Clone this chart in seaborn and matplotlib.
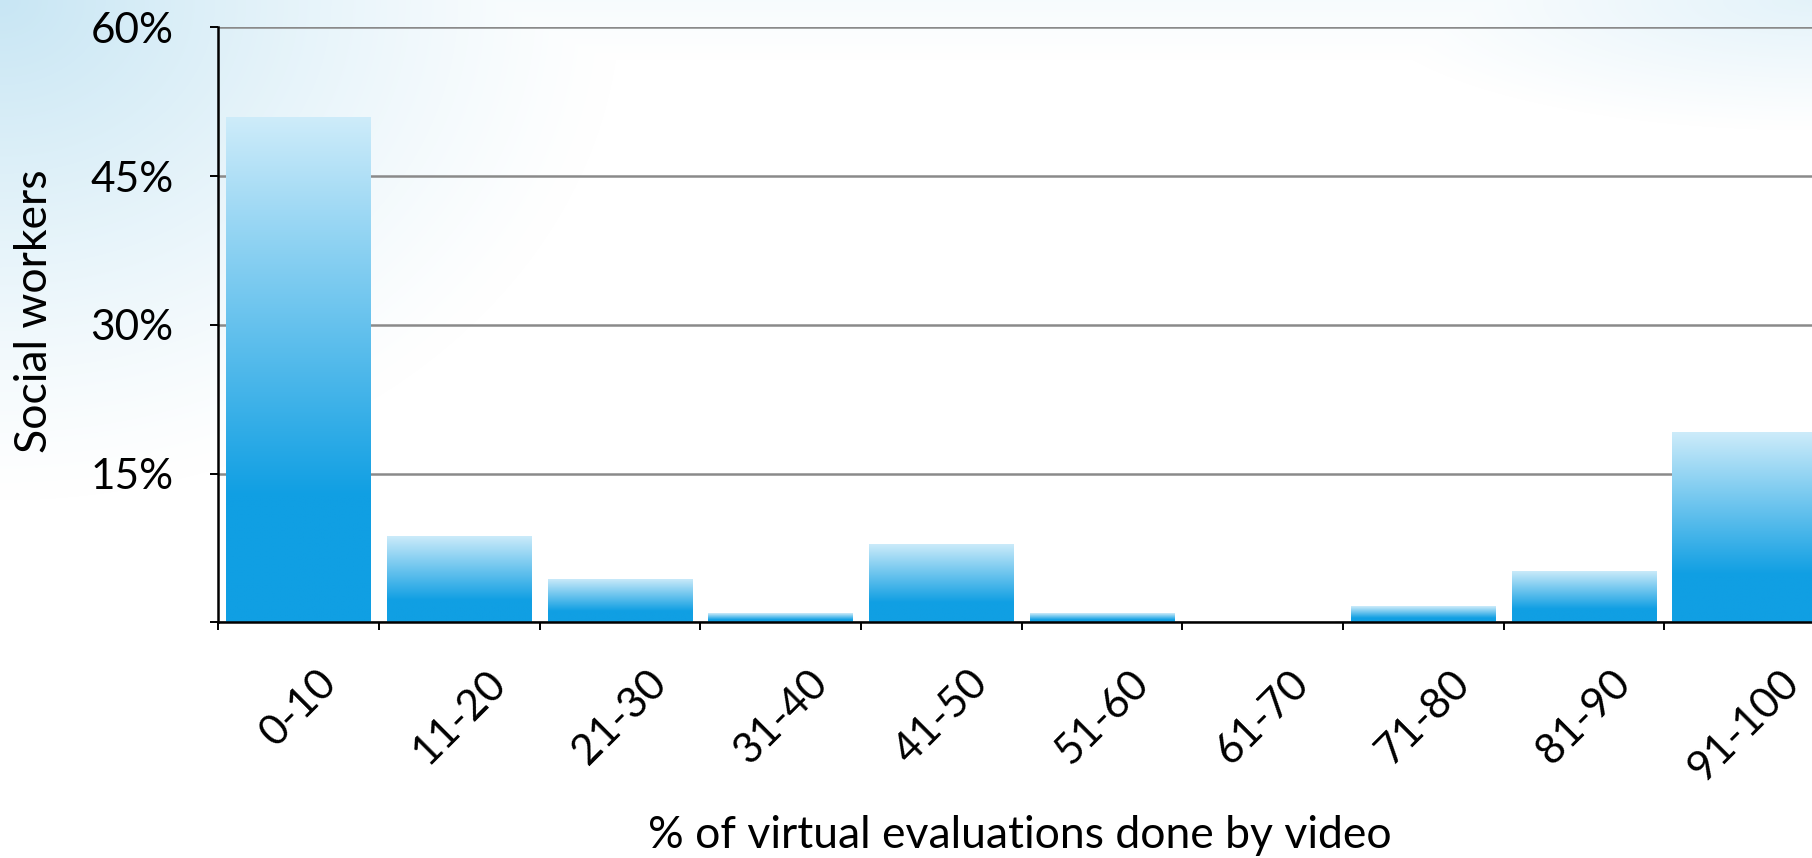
import numpy as np
import matplotlib
matplotlib.use("Agg")
import matplotlib.pyplot as plt
import seaborn as sns

# ---------------- data ----------------
categories = ["0-10", "11-20", "21-30", "31-40", "41-50",
              "51-60", "61-70", "71-80", "81-90", "91-100"]
shares = [51.0, 8.7, 4.4, 0.9, 7.9, 0.9, 0.0, 1.6, 5.2, 19.2]
y_ticks = [0, 15, 30, 45, 60]
y_tick_labels = ["", "15%", "30%", "45%", "60%"]
x_label = "% of virtual evaluations done by video"
y_label = "Social workers"

# ---------------- style ----------------
sns.set_style("white")
plt.rcParams['font.family'] = ['Lato', 'DejaVu Sans']

W, H = 1812, 858
fig = plt.figure(figsize=(W / 100, H / 100), dpi=100)

# background gradient (light blue in the top corners fading to white)
bg = fig.add_axes([0, 0, 1, 1], zorder=-10)
yy, xx = np.mgrid[0:H, 0:W].astype(float)
t1 = np.clip(1 - np.sqrt((xx / 620) ** 2 + (yy / 500) ** 2), 0, 1) ** 1.2
t2 = 0.5 * np.clip(1 - np.sqrt(((W - xx) / 450) ** 2 + (yy / 130) ** 2), 0, 1)
t3 = 0.15 * np.clip(1 - yy / 60, 0, 1)
t = np.maximum(np.maximum(t1, t2), t3)
tint = np.array([200, 230, 244]) / 255.0
img = (1 - t[..., None]) * 1.0 + t[..., None] * tint
bg.imshow(img, aspect='auto', interpolation='bilinear')
bg.axis('off')

# main axes (extends slightly past the right figure edge like the reference)
ax = fig.add_axes([218.3 / W, 1 - 622.3 / H, 1606.7 / W, 595.0 / H])
ax.patch.set_alpha(0)

sns.barplot(x=categories, y=shares, width=0.9, color="#109fe3",
            saturation=1, ax=ax, zorder=2)

# gradient fill for every bar
light = np.array([206, 236, 250]) / 255.0
dark = np.array([16, 159, 227]) / 255.0
n = 256
f = np.linspace(0, 1, n)
mix = np.clip(f / 0.75, 0, 1)[:, None]
grad = (1 - mix) * light + mix * dark
grad_img = grad[:, None, :]
for p in ax.patches:
    h = p.get_height()
    if h <= 0:
        continue
    x0 = p.get_x()
    w = p.get_width()
    im = ax.imshow(grad_img, extent=[x0, x0 + w, 0, h], origin='upper',
                   aspect='auto', zorder=2, interpolation='bilinear')
    im.set_clip_path(p)
    p.set_facecolor('none')
    p.set_edgecolor('none')

ax.set_xlim(-0.5, len(categories) - 0.5)
ax.set_ylim(0, 60)

# grid
ax.set_axisbelow(True)
ax.yaxis.grid(True, color="#8a8a8a", linewidth=1.8)
ax.xaxis.grid(False)

# spines
for s in ["top", "right"]:
    ax.spines[s].set_visible(False)
for s in ["left", "bottom"]:
    ax.spines[s].set_color("black")
    ax.spines[s].set_linewidth(1.8)
    ax.spines[s].set_zorder(3)

# ticks
ax.set_yticks(y_ticks)
ax.set_yticklabels(y_tick_labels)
ax.tick_params(axis='y', which='major', direction='out', length=5.8,
               width=1.4, color='black', pad=26.6, labelsize=30.5,
               labelcolor='black', left=True)
ax.set_xticks(range(len(categories)))
ax.set_xticklabels(categories, rotation=45, ha='center', va='top')
ax.set_xticks(np.arange(-0.5, len(categories), 1.0), minor=True)
ax.tick_params(axis='x', which='major', length=0, pad=29.5, labelsize=30.5,
               labelcolor='black', bottom=True)
ax.tick_params(axis='x', which='minor', direction='out', length=5.8,
               width=1.4, color='black', bottom=True)

# axis labels
ax.set_xlabel(x_label, fontsize=32, color='black')
ax.xaxis.label.set(va='center', ha='center')
ax.xaxis.set_label_coords((1020 - 218.3) / 1606.7, (622.3 - 836) / 595.0)
ax.set_ylabel(y_label, fontsize=32, color='black')
ax.yaxis.label.set(va='center', ha='center', rotation_mode='default')
ax.yaxis.set_label_coords((35 - 218.3) / 1606.7, (622.3 - 311) / 595.0)

fig.savefig("out.png", dpi=100)
